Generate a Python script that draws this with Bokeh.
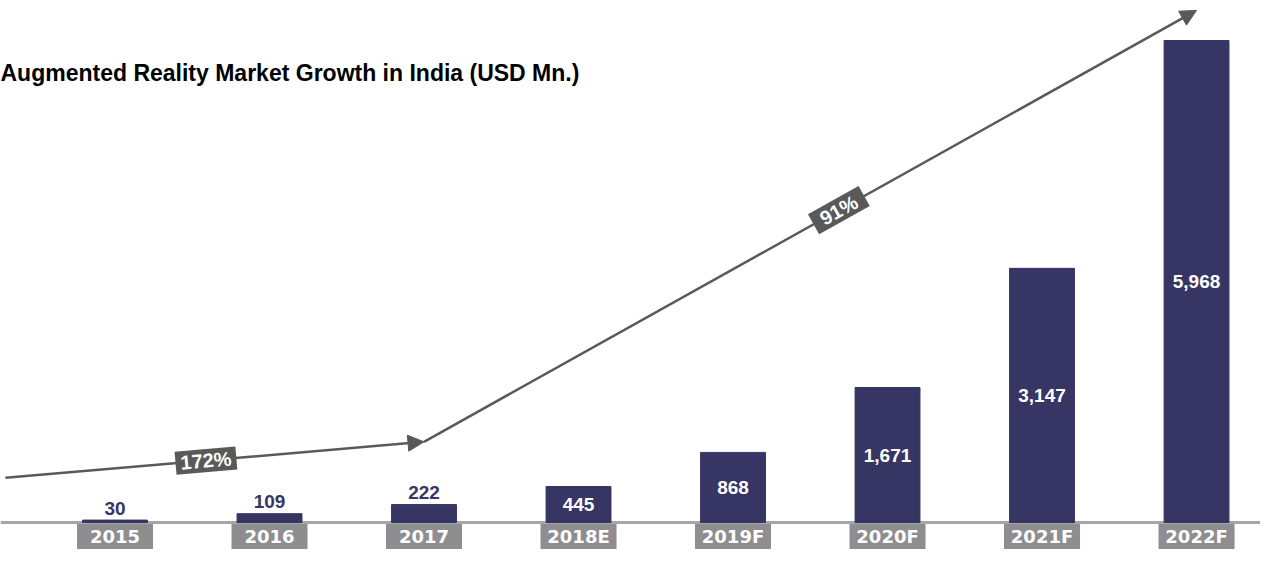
import math
from bokeh.plotting import figure
from bokeh.models import ColumnDataSource, Arrow, NormalHead, Label, Span, Range1d
from bokeh.core.properties import value
from bokeh.embed import file_html
from bokeh.resources import INLINE

# ---- data ----
years = ["2015", "2016", "2017", "2018E", "2019F", "2020F", "2021F", "2022F"]
market = [30, 109, 222, 445, 868, 1671, 3147, 5968]
cagr_labels = ["172%", "91%"]
title_text = "Augmented Reality Market Growth in India (USD Mn.)"

# ---- styles ----
BAR = "#373563"
GREY_BOX = "#8E8E90"
ARROW = "#595959"
FONT_NAME = "Liberation Sans"
FONT = value(FONT_NAME)
YEAR_FONT = value("DejaVu Sans")

W, H = 1260, 549
X0, X1 = -0.7411, 7.414
Y0, Y1 = -334.3, 6463.4
PX_PER_X = W / (X1 - X0)
PX_PER_Y = H / (Y1 - Y0)

idx = list(range(len(years)))
inside = [v >= 300 for v in market]
lab_text = [f"{v:,}" for v in market]

p = figure(width=W, height=H, output_backend="svg", toolbar_location=None,
           x_range=Range1d(X0, X1), y_range=Range1d(Y0, Y1),
           x_axis_location=None, y_axis_location=None, min_border=0)
p.grid.visible = False
p.outline_line_color = None
p.background_fill_color = "white"
p.border_fill_color = "white"

# baseline
p.add_layout(Span(location=0, dimension="width", line_color="#A6A6A6",
                  line_width=3, level="underlay"))

# bars
p.vbar(x=idx, top=market, bottom=0, width=0.42, fill_color=BAR, line_color=BAR)

# year label boxes
p.vbar(x=idx, top=[-19] * len(idx), bottom=[-500] * len(idx), width=0.492,
       fill_color=GREY_BOX, line_color=None)
p.text(x=idx, y=[-170] * len(idx), text=years, text_align="center",
       text_baseline="middle", text_color="white", text_font=YEAR_FONT,
       text_font_style="bold", text_font_size="18px")

# value labels
out_src = ColumnDataSource(dict(x=[i for i in idx if not inside[i]],
                                y=[market[i] for i in idx if not inside[i]],
                                t=[lab_text[i] for i in idx if not inside[i]]))
in_src = ColumnDataSource(dict(x=[i for i in idx if inside[i]],
                               y=[market[i] / 2 for i in idx if inside[i]],
                               t=[lab_text[i] for i in idx if inside[i]]))
p.text(x="x", y="y", text="t", source=out_src, text_align="center",
       text_baseline="middle", y_offset=-12, text_color=BAR, text_font=FONT,
       text_font_style="bold", text_font_size="19px")
p.text(x="x", y="y", text="t", source=in_src, text_align="center",
       text_baseline="middle", text_color="white", text_font=FONT,
       text_font_style="bold", text_font_size="19px")

# growth arrows
segs = [(-0.709, 553.0, 2.0, 999.0), (2.0, 999.0, 7.0, 6341.0)]
label_t = [0.479, 0.537]
label_w = [61, 58]
for (x0, y0, x1, y1), txt, t, w in zip(segs, cagr_labels, label_t, label_w):
    p.add_layout(Arrow(x_start=x0, y_start=y0, x_end=x1, y_end=y1,
                       line_color=ARROW, line_width=2.5,
                       end=NormalHead(size=16, fill_color=ARROW, line_color=ARROW)))
    ang = math.degrees(math.atan2((y1 - y0) * PX_PER_Y, (x1 - x0) * PX_PER_X))
    lx = x0 + t * (x1 - x0)
    ly = y0 + t * (y1 - y0)
    r1 = p.rect(x=[lx], y=[ly], width=w, height=23, width_units="screen",
                height_units="screen", angle=ang, angle_units="deg",
                fill_color=ARROW, line_color=None)
    r1.level = "overlay"
    r2 = p.text(x=[lx], y=[ly], text=[txt], angle=ang, angle_units="deg",
                text_align="center", text_baseline="middle", text_color="white",
                text_font=FONT, text_font_style="bold", text_font_size="20px")
    r2.level = "overlay"

# title
p.add_layout(Label(x=0, y=H - 72, x_units="screen", y_units="screen", text=title_text,
                   text_font=FONT_NAME, text_font_style="bold", text_font_size="23px",
                   text_color="black", text_baseline="middle"))

open("out.html", "w").write(file_html(p, INLINE))
